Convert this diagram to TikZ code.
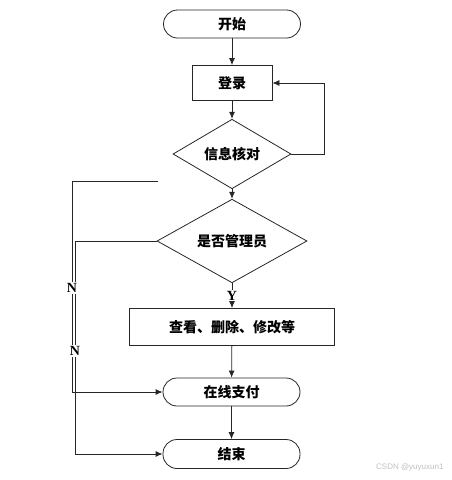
\documentclass[tikz,border=0pt]{standalone}
\usepackage{fontspec}
\setmainfont{Liberation Serif}
\newfontfamily\cjk{Noto Sans CJK SC}
\usetikzlibrary{shapes.geometric,arrows.meta}
\begin{document}
\begin{tikzpicture}[x=1pt,y=-1pt,
  base/.style={draw=black!85, line width=0.8pt, font=\cjk\bfseries\fontsize{14}{14}\selectfont, inner sep=0pt},
  term/.style={base, rectangle, rounded corners=14pt, minimum width=137pt, minimum height=28pt},
  proc/.style={base, rectangle, minimum height=36pt},
  deci/.style={base, diamond},
  conn/.style={draw=black!85, line width=0.8pt},
  arr/.style={conn, -{Latex[length=7pt,width=6pt]}},
  lab/.style={font=\bfseries\fontsize{14}{14}\selectfont, fill=white, inner sep=1pt}
]
\useasboundingbox (0,0) rectangle (451,480);
\node[term] (start) at (232,24) {开始};
\node[proc, minimum width=80pt, minimum height=35pt] (login) at (232,83) {登录};
\node[deci, minimum width=118pt, minimum height=54pt] (check) at (232,154) {信息核对};
\node[deci, minimum width=150pt, minimum height=69pt] (admin) at (232,241) {是否管理员};
\node[proc, minimum width=205pt, minimum height=37pt] (ops) at (232,327) {查看、删除、修改等};
\node[term] (pay) at (231.5,392) {在线支付};
\node[term, minimum height=29pt] (end) at (231.5,454) {结束};

\coordinate (fb) at (324,154);
\coordinate (n1s) at (158,181);
\coordinate (n1c) at (72,181);
\coordinate (n2c) at (75,241);

\draw[arr] (start) -- (login);
\draw[arr] (login) -- (check);
\draw[arr] (check.east) -- (fb) |- (login.east);
\draw[arr] (check) -- (admin);
\draw[arr] (admin) -- node[lab, pos=0.5] (ylab) {Y} (ops);
\draw[arr] (ops) -- (pay);
\draw[arr] (pay) -- (end);
\draw[arr] (n1s) -- (n1c) |- (pay.west);
\draw[arr] (admin.west) -- (n2c) |- (end.west);
\node[lab] (nl1) at (72,288) {N};
\node[lab] (nl2) at (75,351) {N};
\node[font=\fontspec{Liberation Sans}\fontsize{8}{8}\selectfont, text=black!25, anchor=east] (wm) at (447,467) {CSDN @yuyuxun1};
\end{tikzpicture}
\end{document}
